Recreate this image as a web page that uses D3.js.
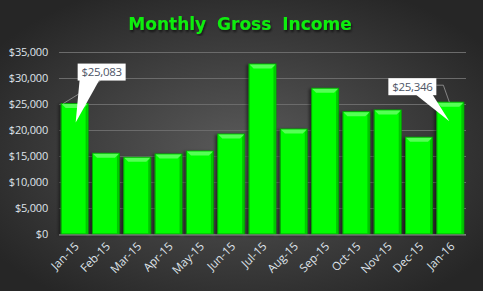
<!DOCTYPE html>
<html>
<head>
<meta charset="utf-8">
<script src="https://cdn.jsdelivr.net/npm/d3@7"></script>
<style>
  html, body { margin: 0; padding: 0; background: #2d2d2d; }
  svg { display: block; }
</style>
</head>
<body>
<svg id="chart" width="483" height="291"></svg>
<script>
document.addEventListener('DOMContentLoaded', () => {

    // chart data
    const months = ['Jan-15', 'Feb-15', 'Mar-15', 'Apr-15', 'May-15', 'Jun-15', 'Jul-15',
                    'Aug-15', 'Sep-15', 'Oct-15', 'Nov-15', 'Dec-15', 'Jan-16'];
    const income = [25083, 15520, 14750, 15390, 15960, 19230, 32690,
                    20190, 28020, 23520, 23850, 18600, 25346];
    const yTicks = [0, 5000, 10000, 15000, 20000, 25000, 30000, 35000];
    const calloutMonths = ['Jan-15', 'Jan-16'];

    const W = 483, H = 291;
    const svg = d3.select('#chart');
    const defs = svg.append('defs');

    // background
    const bg = defs.append('radialGradient')
        .attr('id', 'bg')
        .attr('cx', '50%').attr('cy', '52%').attr('r', '62%');
    bg.append('stop').attr('offset', '0%').attr('stop-color', '#5a5a5a');
    bg.append('stop').attr('offset', '100%').attr('stop-color', '#262626');
    svg.append('rect').attr('width', W).attr('height', H).attr('fill', 'url(#bg)');

    const shadow = defs.append('filter').attr('id', 'shadow')
        .attr('x', '-30%').attr('y', '-10%').attr('width', '160%').attr('height', '130%');
    shadow.append('feDropShadow')
        .attr('dx', -2).attr('dy', 1).attr('stdDeviation', 1.5)
        .attr('flood-color', '#000').attr('flood-opacity', 0.5);

    const titleShadow = defs.append('filter').attr('id', 'tshadow');
    titleShadow.append('feDropShadow')
        .attr('dx', 1).attr('dy', 2).attr('stdDeviation', 1)
        .attr('flood-color', '#000').attr('flood-opacity', 0.6);

    const x = d3.scaleBand()
        .domain(months)
        .range([59, 466])
        .paddingInner(0.14)
        .paddingOuter(0.07);

    const y = d3.scaleLinear()
        .domain([0, 35000])
        .range([234, 52]);

    // title
    svg.append('text')
        .attr('x', 240).attr('y', 30)
        .attr('text-anchor', 'middle')
        .attr('font-family', 'DejaVu Sans')
        .attr('font-weight', 'bold')
        .attr('font-size', 17)
        .attr('word-spacing', 5)
        .attr('fill', '#11ee11')
        .attr('filter', 'url(#tshadow)')
        .text('Monthly Gross Income');

    // y axis + gridlines
    const yAxis = svg.append('g')
        .attr('transform', 'translate(59,0)')
        .call(d3.axisLeft(y)
            .tickValues(yTicks)
            .tickSize(-(466 - 59))
            .tickPadding(11)
            .tickFormat(d => '$' + d3.format(',')(d)));
    yAxis.select('.domain').remove();
    yAxis.selectAll('line').attr('stroke', '#6b6b6b');
    yAxis.selectAll('text')
        .attr('fill', '#dfe3ea')
        .attr('font-family', 'Open Sans')
        .attr('font-size', 11)
        .attr('letter-spacing', -0.2);

    // bars
    const bars = svg.append('g').selectAll('g')
        .data(months)
        .join('g');

    bars.append('rect')
        .attr('x', d => x(d))
        .attr('y', (d, i) => y(income[i]))
        .attr('width', x.bandwidth())
        .attr('height', (d, i) => y(0) - y(income[i]))
        .attr('fill', '#00ff00')
        .attr('stroke', '#00a800')
        .attr('stroke-width', 1)
        .attr('filter', 'url(#shadow)');

    // bevel on the top edge
    bars.append('path')
        .attr('d', (d, i) => {
            const x0 = x(d) + 0.5, x1 = x(d) + x.bandwidth() - 0.5, t = y(income[i]) + 0.5;
            return `M${x0},${t}L${x1},${t}L${x1 - 4},${t + 4}L${x0 + 4},${t + 4}Z`;
        })
        .attr('fill', '#55ff55');
    bars.append('path')
        .attr('d', (d, i) => {
            const x0 = x(d) + 0.5, x1 = x(d) + x.bandwidth() - 0.5, t = y(income[i]) + 0.5;
            return `M${x1},${t}L${x1},${y(0)}L${x1 - 2},${y(0)}L${x1 - 2},${t + 3}Z`;
        })
        .attr('fill', '#00c800');

    // baseline
    svg.append('line')
        .attr('x1', 59).attr('x2', 466)
        .attr('y1', y(0) + 1).attr('y2', y(0) + 1)
        .attr('stroke', '#8f8f8f');

    // x labels
    const xAxis = svg.append('g')
        .attr('transform', `translate(0,${y(0) + 1})`)
        .call(d3.axisBottom(x).tickSize(0).tickPadding(0));
    xAxis.select('.domain').remove();
    xAxis.selectAll('text')
        .attr('fill', '#dfe3ea')
        .attr('font-family', 'Open Sans')
        .attr('font-size', 11.5)
        .attr('text-anchor', 'end')
        .attr('dy', 0)
        .attr('transform', 'translate(5,12) rotate(-45)');

    // callouts
    const callouts = svg.append('g').selectAll('g')
        .data(calloutMonths)
        .join('g');

    callouts.each(function (m, k) {
        const g = d3.select(this);
        const i = months.indexOf(m);
        const cx = x(m) + x.bandwidth() / 2;
        const top = y(income[i]);
        const left = k === 0;
        const bw = 48, bh = 17;
        const bx = left ? cx + 3 : cx - 62;
        const by = left ? top - 40 : top - 24;

        if (left) {
            g.append('line')
                .attr('x1', bx + 23).attr('y1', by + bh)
                .attr('x2', x(m) + 2).attr('y2', top)
                .attr('stroke', '#9a9a9a').attr('stroke-width', 0.8);
        } else {
            g.append('polyline')
                .attr('points', `${bx + bw},${by + 7} ${bx + bw + 7},${by + 7} ${cx - 1},${top}`)
                .attr('fill', 'none')
                .attr('stroke', '#9a9a9a').attr('stroke-width', 0.8);
        }

        const tipX = left ? cx + 1 : cx - 1;
        const tipY = top + 19;
        const b0 = left ? bx + 2 : bx + 27;
        const b1 = left ? bx + 22 : bx + 44;
        g.append('path')
            .attr('d', `M${b0},${by + bh - 1}L${b1},${by + bh - 1}L${tipX},${tipY}Z`)
            .attr('fill', '#ffffff');

        g.append('rect')
            .attr('x', bx).attr('y', by)
            .attr('width', bw).attr('height', bh)
            .attr('fill', '#ffffff');

        g.append('text')
            .attr('x', bx + bw / 2).attr('y', by + 12.8)
            .attr('text-anchor', 'middle')
            .attr('font-family', 'Open Sans')
            .attr('font-size', 11.5)
            .attr('letter-spacing', -0.3)
            .attr('fill', '#4d5566')
            .text('$' + d3.format(',')(income[i]));
    });

});
</script>
</body>
</html>
